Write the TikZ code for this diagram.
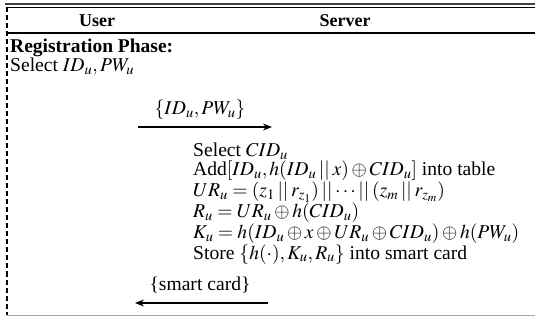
\documentclass[tikz,border=0pt]{standalone}
\usepackage{mathptmx}
\usepackage{fontspec}
\setmainfont{Liberation Serif}
\usetikzlibrary{arrows.meta}
\begin{document}
\begin{tikzpicture}[x=1pt,y=-1pt,
  txt/.style={inner sep=0pt,anchor=west,font=\fontsize{19.6}{18.9}\selectfont},
  head/.style={inner sep=0pt,font=\fontsize{18}{18.8}\selectfont\bfseries},
  msg/.style={-{Stealth[length=9pt,width=7pt]},line width=1.2pt}]
\useasboundingbox (0,0) rectangle (535,320);
% the frame of the table
\coordinate (tl) at (5,4);
\coordinate (tr) at (535,4);
\coordinate (ul) at (7,7.5);
\coordinate (ur) at (535,7.5);
\coordinate (hl) at (7,33);
\coordinate (hr) at (535,33);
\coordinate (bl) at (7,315);
\coordinate (br) at (535,315);
\draw[line width=1.6pt,black!75] (tl) -- (tr);
\draw[line width=1pt] (ul) -- (ur);
\draw[line width=1.2pt] (hl) -- (hr);
\draw[line width=1pt,black!35] (bl) -- (br);
\draw[line width=1.2pt,dash pattern=on 5pt off 3pt] (ul) -- (bl);
%% the headings
\node[head] (user) at (97,21) {User};
\node[head] (server) at (345,21) {Server};
\node[head,anchor=west,font=\fontsize{19.5}{19}\selectfont\bfseries] (phase) at (10,48) {Registration Phase:};
\node[txt] (select) at (10,67) {Select $ID_u, PW_u$};
%% user to server
\coordinate (m1s) at (138,127);
\coordinate (m1e) at (272,127);
\draw[msg] (m1s) -- (m1e);
\node[txt,anchor=center] (m1) at (200,110) {$\{ID_u, PW_u\}$};
%% the server side
\node[txt,anchor=north west,align=left] (srv) at (193,143) {%
Select $CID_u$\\
Add$[ID_u, h(ID_u \mathbin{||} x) \oplus CID_u]$ into table\\
$UR_u = (z_1 \mathbin{||} r_{z_1}) \mathbin{||} \cdots \mathbin{||} (z_m \mathbin{||} r_{z_m})$\\
$R_u = UR_u \oplus h(CID_u)$\\
$K_u = h(ID_u \oplus x \oplus UR_u \oplus CID_u) \oplus h(PW_u)$\\
Store $\{h(\cdot), K_u, R_u\}$ into smart card};
%% server to user
\coordinate (m2s) at (268,303);
\coordinate (m2e) at (135,303);
\draw[msg] (m2s) -- (m2e);
\node[txt,anchor=center] (m2) at (200,285) {\{smart card\}};
\end{tikzpicture}
\end{document}
